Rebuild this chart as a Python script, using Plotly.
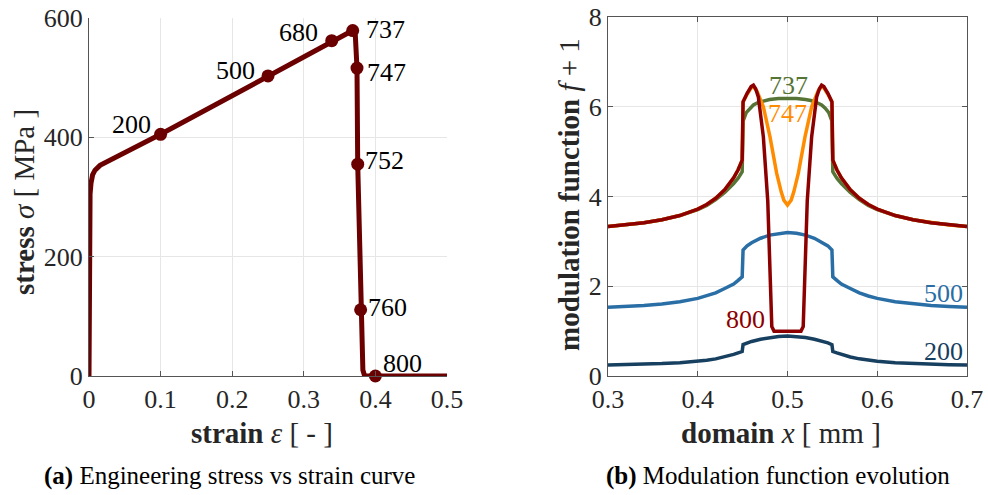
import plotly.graph_objects as go

# ---------------- (a) engineering stress-strain curve ----------------
strain = [0.0, 0.0004, 0.0008, 0.0015, 0.0028, 0.005, 0.0084, 0.0154,
          0.1, 0.25, 0.339, 0.3683, 0.372, 0.3743, 0.3753, 0.3794,
          0.3825, 0.385, 0.4, 0.5]
stress = [0, 200, 278, 305, 323, 337, 345, 353,
          405, 503, 562, 579, 570, 516, 355, 111,
          10, 0, 0, 0]

# sampled load steps marked on the curve
step_labels = ["200", "500", "680", "737", "747", "752", "760", "800"]
step_strain = [0.1, 0.25, 0.339, 0.3683, 0.3743, 0.3753, 0.3794, 0.4]
step_stress = [405, 503, 562, 579, 516, 355, 111, 0]
# label offsets in pixels (x to the right, y upwards)
step_dx = [-29, -33, -33, 33, 29, 27, 27, 27]
step_dy = [10, 5, 8, 1, -4, 4, 2, 13]

# ---------------- (b) modulation function f + 1 ----------------
x_200 = [0.30, 0.32, 0.34, 0.36, 0.38, 0.40, 0.41, 0.42, 0.43, 0.44, 0.445, 0.4495,
         0.4505, 0.455, 0.46, 0.47, 0.48, 0.49, 0.50, 0.51, 0.52, 0.53, 0.54, 0.545,
         0.5495, 0.5505, 0.555, 0.56, 0.57, 0.58, 0.59, 0.60, 0.62, 0.64, 0.66, 0.68, 0.70]
f_200 = [0.245, 0.252, 0.263, 0.277, 0.298, 0.330, 0.352, 0.382, 0.423, 0.481, 0.515, 0.545,
         0.700, 0.740, 0.770, 0.820, 0.860, 0.882, 0.890, 0.882, 0.860, 0.820, 0.770, 0.740,
         0.700, 0.545, 0.515, 0.481, 0.423, 0.382, 0.352, 0.330, 0.298, 0.277, 0.263, 0.252, 0.245]

x_500 = [0.30, 0.32, 0.34, 0.36, 0.38, 0.40, 0.41, 0.42, 0.43, 0.44, 0.445, 0.4495,
         0.4505, 0.455, 0.46, 0.47, 0.48, 0.49, 0.50, 0.51, 0.52, 0.53, 0.54, 0.545,
         0.5495, 0.5505, 0.555, 0.56, 0.57, 0.58, 0.59, 0.60, 0.62, 0.64, 0.66, 0.68, 0.70]
f_500 = [1.53, 1.548, 1.573, 1.607, 1.656, 1.73, 1.783, 1.853, 1.949, 2.05, 2.13, 2.21,
         2.81, 2.90, 2.97, 3.07, 3.14, 3.18, 3.20, 3.18, 3.14, 3.07, 2.97, 2.90,
         2.81, 2.21, 2.13, 2.05, 1.949, 1.853, 1.783, 1.73, 1.656, 1.607, 1.573, 1.548, 1.53]

x_737 = [0.30, 0.32, 0.34, 0.36, 0.38, 0.40, 0.41, 0.42, 0.43, 0.44, 0.445, 0.4495,
         0.4505, 0.454, 0.458, 0.462, 0.468, 0.474, 0.48, 0.49, 0.50, 0.51, 0.52, 0.526,
         0.532, 0.538, 0.542, 0.546, 0.5495, 0.5505, 0.555, 0.56, 0.57, 0.58, 0.59, 0.60,
         0.62, 0.64, 0.66, 0.68, 0.70]
f_737 = [3.33, 3.366, 3.414, 3.481, 3.576, 3.71, 3.80, 3.93, 4.09, 4.29, 4.41, 4.55,
         5.68, 5.87, 5.97, 6.04, 6.10, 6.14, 6.16, 6.185, 6.19, 6.185, 6.16, 6.14,
         6.10, 6.04, 5.97, 5.87, 5.68, 4.55, 4.41, 4.29, 4.09, 3.93, 3.80, 3.71,
         3.576, 3.481, 3.414, 3.366, 3.33]

x_747 = [0.30, 0.32, 0.34, 0.36, 0.38, 0.40, 0.41, 0.42, 0.43, 0.44, 0.445, 0.4495,
         0.4505, 0.455, 0.4595, 0.4619, 0.466, 0.470, 0.4731, 0.4805, 0.4879, 0.4929,
         0.4959, 0.50, 0.5041, 0.5071, 0.5121, 0.5195, 0.5269, 0.530, 0.534, 0.5381,
         0.5405, 0.545, 0.5495, 0.5505, 0.555, 0.56, 0.57, 0.58, 0.59, 0.60, 0.62,
         0.64, 0.66, 0.68, 0.70]
f_747 = [3.33, 3.366, 3.414, 3.481, 3.576, 3.72, 3.823, 3.96, 4.147, 4.415, 4.596, 4.81,
         6.11, 6.28, 6.42, 6.45, 6.35, 6.15, 6.0, 5.33, 4.52, 4.11,
         3.92, 3.81, 3.92, 4.11, 4.52, 5.33, 6.0, 6.15, 6.35, 6.45,
         6.42, 6.28, 6.11, 4.81, 4.596, 4.415, 4.147, 3.96, 3.823, 3.72, 3.576,
         3.481, 3.414, 3.366, 3.33]

x_800 = [0.30, 0.32, 0.34, 0.36, 0.38, 0.40, 0.41, 0.42, 0.43, 0.44, 0.445, 0.4495,
         0.4505, 0.455, 0.4595, 0.462, 0.4645, 0.4675, 0.4731, 0.478, 0.4825, 0.485,
         0.515, 0.5175, 0.522, 0.5269, 0.5325, 0.5355, 0.538, 0.5405, 0.545, 0.5495,
         0.5505, 0.555, 0.56, 0.57, 0.58, 0.59, 0.60, 0.62, 0.64, 0.66, 0.68, 0.70]
f_800 = [3.33, 3.366, 3.414, 3.481, 3.576, 3.72, 3.823, 3.96, 4.147, 4.415, 4.596, 4.81,
         6.11, 6.30, 6.45, 6.48, 6.40, 6.22, 5.33, 3.90, 1.10, 1.0,
         1.0, 1.10, 3.90, 5.33, 6.22, 6.40, 6.48, 6.45, 6.30, 6.11,
         4.81, 4.596, 4.415, 4.147, 3.96, 3.823, 3.72, 3.576, 3.481, 3.414, 3.366, 3.33]

# curve labels: text, x, y
mod_labels = [("737", 0.5009, 6.48), ("747", 0.5, 5.85), ("800", 0.4527, 1.25),
              ("500", 0.6737, 1.84), ("200", 0.6737, 0.54)]

C_CURVE = "#6a0000"
C_200 = "#173f5f"
C_500 = "#2a6ea6"
C_737 = "#567435"
C_747 = "#ff8c00"
C_800 = "#8c0000"
mod_colors = {"200": C_200, "500": C_500, "737": C_737, "747": C_747, "800": C_800}

SERIF = "Liberation Serif"
TXT = "#262626"
AX = "#555555"
GRID = "#e6e6e6"

W, H = 988, 495

fig = go.Figure()

fig.add_trace(go.Scatter(x=strain, y=stress, mode="lines",
                         line=dict(color=C_CURVE, width=5),
                         xaxis="x", yaxis="y", showlegend=False))
fig.add_trace(go.Scatter(x=step_strain, y=step_stress, mode="markers",
                         marker=dict(color=C_CURVE, size=13),
                         xaxis="x", yaxis="y", showlegend=False, cliponaxis=False))

for xs, ys, col in [(x_200, f_200, C_200), (x_500, f_500, C_500),
                    (x_737, f_737, C_737), (x_747, f_747, C_747),
                    (x_800, f_800, C_800)]:
    fig.add_trace(go.Scatter(x=xs, y=ys, mode="lines",
                             line=dict(color=col, width=3.5),
                             xaxis="x2", yaxis="y2", showlegend=False))

annotations = []
for lab, sx, sy, dx, dy in zip(step_labels, step_strain, step_stress, step_dx, step_dy):
    annotations.append(dict(x=sx, y=sy, xref="x", yref="y", text=lab, showarrow=False,
                            xshift=dx, yshift=dy, xanchor="center", yanchor="middle",
                            font=dict(family=SERIF, size=26, color="black")))
for lab, lx, ly in mod_labels:
    annotations.append(dict(x=lx, y=ly, xref="x2", yref="y2", text=lab, showarrow=False,
                            xanchor="center", yanchor="middle",
                            font=dict(family=SERIF, size=26, color=mod_colors[lab])))


def px(x):
    return x / W


def py(y):
    return (H - y) / H


def paper_text(x, y, text, size, color, angle=0):
    return dict(x=px(x), y=py(y), xref="paper", yref="paper", showarrow=False,
                xanchor="center", yanchor="middle", textangle=angle, text=text,
                font=dict(family=SERIF, size=size, color=color))


annotations += [
    paper_text(262, 433, "<b>strain</b> <i>ε</i> [ - ]", 29, TXT),
    paper_text(24, 202, "<b>stress</b> <i>σ</i> [ MPa ]", 29, TXT, -90),
    paper_text(781, 433, "<b>domain</b> <i>x</i> [ mm ]", 29, TXT),
    paper_text(569, 195, "<b>modulation function</b> <i>f</i> + 1", 29, TXT, -90),
    paper_text(229, 476, "<b>(a)</b> Engineering stress vs strain curve", 25, "black"),
    paper_text(778, 476, "<b>(b)</b> Modulation function evolution", 25, "black"),
]

axis_common = dict(showgrid=True, gridcolor=GRID, gridwidth=1, zeroline=False,
                   showline=True, linecolor=AX, linewidth=1, automargin=False,
                   ticks="inside", ticklen=5, tickcolor=AX,
                   tickfont=dict(family=SERIF, size=26, color=TXT))

fig.update_layout(
    width=W, height=H,
    margin=dict(l=0, r=0, t=0, b=0, autoexpand=False),
    paper_bgcolor="white", plot_bgcolor="white",
    xaxis=dict(domain=[px(89), px(447)], range=[0, 0.5], anchor="y",
               tickvals=[0, 0.1, 0.2, 0.3, 0.4, 0.5],
               ticktext=["0", "0.1", "0.2", "0.3", "0.4", "0.5"], **axis_common),
    yaxis=dict(domain=[py(376), py(18)], range=[0, 600], anchor="x",
               tickvals=[0, 200, 400, 600], **axis_common),
    xaxis2=dict(domain=[px(608), px(967)], range=[0.3, 0.7], anchor="y2", mirror="ticks",
                tickvals=[0.3, 0.4, 0.5, 0.6, 0.7],
                ticktext=["0.3", "0.4", "0.5", "0.6", "0.7"], **axis_common),
    yaxis2=dict(domain=[py(376), py(17)], range=[0, 8], anchor="x2", mirror="ticks",
                tickvals=[0, 2, 4, 6, 8], **axis_common),
    annotations=annotations,
)

fig.write_html("out.html")
